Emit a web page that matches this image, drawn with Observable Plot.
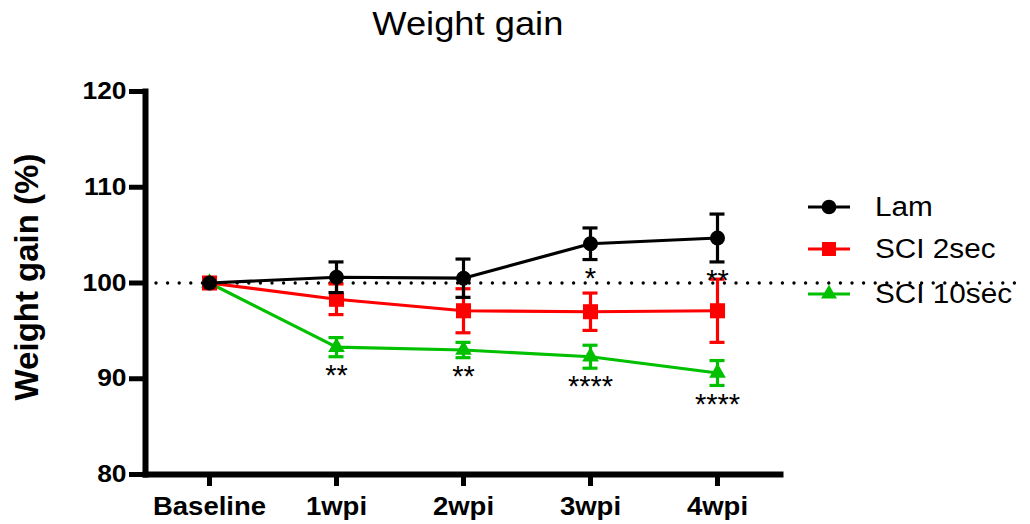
<!DOCTYPE html>
<html><head><meta charset="utf-8">
<script src="https://cdn.jsdelivr.net/npm/d3@7"></script>
<script src="https://cdn.jsdelivr.net/npm/@observablehq/plot@0.6"></script>
<style>
body{margin:0;background:#fff;font-family:"Liberation Sans",Arial,sans-serif;}
#wrap{position:relative;width:1030px;height:524px;overflow:hidden;}
#chart{position:absolute;left:0;top:0;}
#title{position:absolute;left:0;width:935px;top:5px;text-align:center;font-size:33px;line-height:normal;color:#000;}
#title span{display:inline-block;transform:scaleX(1.1);transform-origin:center;}
#legend{position:absolute;left:808px;top:186px;}
.row{display:flex;align-items:center;height:42px;}
.row:last-child{margin-top:3px;}
.row svg{display:block;margin-right:25px;}
.row span{font-size:27px;color:#000;display:inline-block;transform:scaleX(1.1);transform-origin:left center;}
</style></head><body>
<div id="wrap"><div id="chart"></div><div id="title"><span>Weight gain</span></div><div id="legend"></div></div>
<script>
const timepoints = ["Baseline", "1wpi", "2wpi", "3wpi", "4wpi"];
const seriesNames = ["Lam", "SCI 2sec", "SCI 10sec"];
const lamMean = [100, 100.6, 100.5, 104.1, 104.7];
const lamSem = [0, 1.6, 2.0, 1.65, 2.5];
const sci2Mean = [100, 98.3, 97.1, 97.0, 97.1];
const sci2Sem = [0, 1.6, 2.3, 1.95, 3.3];
const sci10Mean = [100, 93.3, 93.0, 92.3, 90.6];
const sci10Sem = [0, 1.0, 0.8, 1.2, 1.3];
const lamStars = ["", "", "", "*", "**"];
const sci2Stars = ["", "", "", "", ""];
const sci10Stars = ["", "**", "**", "****", "****"];
const yTicks = [80, 90, 100, 110, 120];
const referenceLevel = [100];
const yLabel = "Weight gain (%)";
const colors = ["#000000", "#ff0000", "#00c000"];
const symbols = ["circle", "square", "triangle"];

const means = [lamMean, sci2Mean, sci10Mean];
const sems = [lamSem, sci2Sem, sci10Sem];
const stars = [lamStars, sci2Stars, sci10Stars];
const sizes = [7.5, 8.5, 6.2];

function rowsFor(s) {
  return timepoints.map((t, i) => ({
    series: seriesNames[s], x: t, mean: means[s][i], sem: sems[s][i], star: stars[s][i]
  }));
}

const marks = [
  Plot.ruleY(referenceLevel, {stroke: "#000", strokeWidth: 3.4, strokeDasharray: "0 11.6", strokeLinecap: "round", insetLeft: 11, insetRight: -244})
];
for (const s of [2, 1, 0]) {
  const rows = rowsFor(s);
  const withErr = rows.filter(d => d.sem > 0);
  marks.push(
    Plot.line(rows, {x: "x", y: "mean", stroke: colors[s], strokeWidth: 3.2}),
    Plot.ruleX(withErr, {x: "x", y1: d => d.mean - d.sem, y2: d => d.mean + d.sem, stroke: colors[s], strokeWidth: 3.2}),
    Plot.ruleY(withErr, {x1: "x", x2: "x", y: d => d.mean - d.sem, stroke: colors[s], strokeWidth: 3.2, insetLeft: -7.5, insetRight: -7.5}),
    Plot.ruleY(withErr, {x1: "x", x2: "x", y: d => d.mean + d.sem, stroke: colors[s], strokeWidth: 3.2, insetLeft: -7.5, insetRight: -7.5}),
    Plot.dot(rows, {x: "x", y: "mean", symbol: () => symbols[s], fill: colors[s], stroke: "none", r: sizes[s]}),
    Plot.text(rows.filter(d => d.star), {x: "x", y: d => d.mean - d.sem, text: "star", dy: 19, fontSize: 29, fill: "#000"})
  );
}
marks.push(
  Plot.axisY({ticks: yTicks, tickSize: 16, tickPadding: 3, strokeWidth: 5, fontSize: 24, fontWeight: "bold", label: null}),
  Plot.axisX({tickSize: 12, tickPadding: 11, strokeWidth: 5, fontSize: 25, fontWeight: "bold", label: null}),
  Plot.frame({anchor: "left", strokeWidth: 6, strokeLinecap: "square"}),
  Plot.frame({anchor: "bottom", strokeWidth: 6, strokeLinecap: "square"}),
  Plot.text([yLabel], {ariaLabel: "y-label", frameAnchor: "left", textAnchor: "middle", rotate: -90, dx: -118, dy: -6, fontSize: 33, fontWeight: "bold", fill: "#000"})
);

const chart = Plot.plot({
  width: 1030, height: 524,
  marginLeft: 145, marginRight: 250, marginTop: 91, marginBottom: 50,
  style: {fontFamily: "'Liberation Sans', Arial, sans-serif", color: "#000", background: "#fff", overflow: "visible"},
  x: {type: "point", domain: timepoints, padding: 0.5},
  y: {domain: [80, 120]},
  symbol: {domain: symbols, range: symbols},
  marks
});
document.getElementById("chart").appendChild(chart);

// widen glyphs horizontally to match the reference's wider lettering
function widen(sel, sc) {
  d3.select(chart).selectAll(sel).each(function () {
    const t = this.getAttribute("transform") || "";
    this.setAttribute("transform", t + " " + sc);
  });
}
widen('g[aria-label="x-axis tick label"] text', "scale(1.1,1)");
widen('g[aria-label="y-axis tick label"] text', "scale(1.1,1)");
widen('g[aria-label="y-label"] text', "scale(1,1.05)");

const legend = d3.select("#legend");
seriesNames.forEach((name, s) => {
  const row = legend.append("div").attr("class", "row");
  const svg = row.append("svg").attr("width", 42).attr("height", 20);
  svg.append("line").attr("x1", 0).attr("x2", 42).attr("y1", 10).attr("y2", 10).attr("stroke", colors[s]).attr("stroke-width", 3);
  const sym = d3.symbol(s === 0 ? d3.symbolCircle : s === 1 ? d3.symbolSquare : d3.symbolTriangle, s === 0 ? 170 : s === 1 ? 196 : 110);
  svg.append("path").attr("d", sym()).attr("transform", "translate(21,10)").attr("fill", colors[s]);
  row.append("span").text(name);
});
</script>
</body></html>
